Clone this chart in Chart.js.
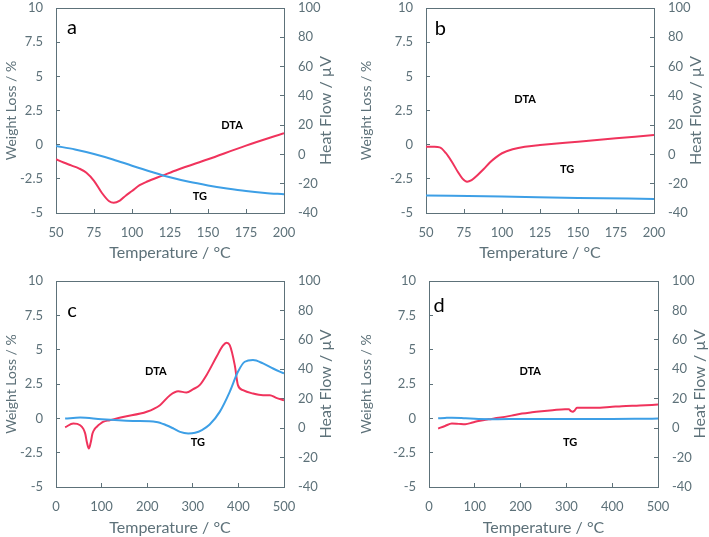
<!DOCTYPE html>
<html>
<head>
<meta charset="utf-8">
<script src="https://cdn.jsdelivr.net/npm/chart.js@4"></script>
<style>
body { margin: 0; background: #fff; width: 709px; height: 537px; position: relative; overflow: hidden; }
canvas { position: absolute; display: block; }
</style>
</head>
<body>
<canvas id="chartA" width="355" height="265" style="left:0;top:0"></canvas>
<canvas id="chartB" width="354" height="265" style="left:355px;top:0"></canvas>
<canvas id="chartC" width="355" height="272" style="left:0;top:265px"></canvas>
<canvas id="chartD" width="354" height="272" style="left:355px;top:265px"></canvas>
<script>
// panel a
var tempA_tg = [50, 62.5, 75, 87.5, 100, 112.5, 125, 137.5, 150, 162.5, 175, 187.5, 200];
var tgA = [-0.1, -0.35, -0.68, -1.08, -1.54, -1.98, -2.39, -2.72, -2.98, -3.2, -3.39, -3.53, -3.63];
var tempA_dta = [50, 55, 60, 65, 70, 75, 80, 85, 88, 92, 96, 100, 105, 110, 120, 130, 150, 175, 200];
var dtaA = [-3.3, -5.5, -7.5, -9.5, -12.5, -18, -26, -32, -33, -31.5, -28, -25, -21, -18.5, -14.5, -10.5, -3.3, 6, 14.5];

// panel b
var tempB_tg = [50, 100, 150, 200];
var tgB = [-3.72, -3.8, -3.9, -3.97];
var tempB_dta = [50, 55, 59, 63, 67, 71, 74, 77, 80, 84, 88, 92, 96, 100, 107, 115, 125, 150, 175, 200];
var dtaB = [5.3, 5.2, 4.8, 1, -5, -12, -16.5, -18.6, -17.5, -14, -10, -5.5, -2, 0.8, 3.5, 5.3, 6.4, 8.7, 11, 13.3];

// panel c
var tempC_tg = [20, 53, 100, 169, 220, 242, 258, 272, 290, 305, 320, 337, 359, 381, 399, 414, 432, 454, 476, 500];
var tgC = [-0.02, 0.06, -0.07, -0.19, -0.26, -0.5, -0.75, -0.99, -1.1, -1.05, -0.85, -0.45, 0.47, 1.93, 3.39, 4.12, 4.24, 4.0, 3.63, 3.27];
var tempC_dta = [20, 38, 53, 60, 64, 68, 72, 76, 80, 85, 89, 103, 118, 147, 199, 228, 250, 268, 286, 301, 315, 330, 352, 366, 374, 381, 392, 399, 410, 432, 454, 469, 483, 500];
var dtaC = [0.6, 3.1, 2.0, -0.5, -3.7, -10, -13.9, -10, -3.7, -0.5, 0.8, 4.2, 5.4, 7.6, 11.1, 15.6, 22.4, 25.1, 24.2, 26.5, 29.2, 36, 48.5, 56, 58, 56.4, 42.8, 29.2, 25.8, 23.5, 22.4, 22.4, 20.6, 19];

// panel d
var tempD_tg = [20, 35, 50, 80, 108, 150, 200, 300, 400, 470, 500];
var tgD = [0, 0.03, 0.05, 0.0, -0.05, -0.06, -0.05, -0.05, -0.05, -0.03, -0.02];
var tempD_dta = [20, 35, 50, 65, 79, 95, 108, 130, 152, 180, 203, 225, 246, 270, 297, 305, 310, 314, 318, 323, 340, 363, 400, 421, 460, 500];
var dtaD = [-0.3, 1.5, 3.1, 2.9, 2.7, 3.8, 4.9, 6.0, 7.0, 8.5, 9.9, 10.8, 11.5, 12.2, 12.9, 12.9, 11.5, 11.1, 12, 13.8, 13.8, 13.8, 14.5, 14.9, 15.4, 16];

var AXIS = '#5d7179';
var RED = '#f0335c';
var BLUE = '#3d9fe6';
var FONT = 'Lato, "Open Sans", sans-serif';

function pts(xs, ys) {
    return xs.map(function (x, i) { return {x: x, y: ys[i]}; });
}

// box round the plot, right axis title and the in-plot labels
var panelDecor = {
    id: 'panelDecor',
    beforeDatasetsDraw: function (chart) {
        var a = chart.chartArea, ctx = chart.ctx;
        ctx.save();
        ctx.strokeStyle = AXIS;
        ctx.lineWidth = 1;
        ctx.strokeRect(Math.round(a.left) + 0.5, Math.round(a.top) + 0.5,
            Math.round(a.right - a.left), Math.round(a.bottom - a.top));
        ctx.restore();
    },
    afterDraw: function (chart, args, opts) {
        var a = chart.chartArea, ctx = chart.ctx;
        var sx = chart.scales.x, sy = chart.scales.y;
        ctx.save();
        ctx.translate(a.right + 42, (a.top + a.bottom) / 2);
        ctx.rotate(-Math.PI / 2);
        ctx.fillStyle = AXIS;
        ctx.font = '16px ' + FONT;
        ctx.textAlign = 'center';
        ctx.textBaseline = 'middle';
        ctx.fillText('Heat Flow / \u00b5V', 0, 0);
        ctx.restore();

        ctx.save();
        ctx.fillStyle = '#000';
        ctx.textAlign = 'center';
        ctx.textBaseline = 'middle';
        ctx.font = '20px ' + FONT;
        ctx.fillText(opts.letter[0], sx.getPixelForValue(opts.letter[1]), sy.getPixelForValue(opts.letter[2]));
        ctx.font = 'bold 11px ' + FONT;
        opts.notes.forEach(function (n) {
            ctx.fillText(n[0], sx.getPixelForValue(n[1]), sy.getPixelForValue(n[2]));
        });
        ctx.restore();
    }
};

function noPad(s) {
    s.paddingTop = 0; s.paddingBottom = 0; s.paddingLeft = 0; s.paddingRight = 0;
}

function makePanel(id, p) {
    var ctx = document.getElementById(id).getContext('2d');
    return new Chart(ctx, {
        type: 'line',
        data: {
            datasets: [{
                label: 'TG',
                data: pts(p.tgX, p.tg),
                yAxisID: 'y',
                borderColor: BLUE,
                borderWidth: 2,
                pointRadius: 0,
                cubicInterpolationMode: 'monotone'
            }, {
                label: 'DTA',
                data: pts(p.dtaX, p.dta),
                yAxisID: 'y1',
                borderColor: RED,
                borderWidth: 2,
                pointRadius: 0,
                cubicInterpolationMode: 'monotone'
            }]
        },
        plugins: [panelDecor],
        options: {
            responsive: false,
            animation: false,
            layout: { padding: { top: p.box[2], left: 0, right: 0, bottom: 0 } },
            plugins: {
                legend: { display: false },
                tooltip: { enabled: false },
                panelDecor: { letter: p.letter, notes: p.notes }
            },
            scales: {
                x: {
                    type: 'linear',
                    min: p.xMin, max: p.xMax,
                    ticks: { stepSize: p.xStep, padding: 16, color: AXIS, font: { family: FONT, size: 13 } },
                    grid: { drawOnChartArea: false, tickLength: -4, color: AXIS },
                    border: { display: false },
                    title: { display: true, text: 'Temperature / \u00b0C', color: AXIS,
                             font: { family: FONT, size: 16 }, padding: { top: 0, bottom: p.box[4] } },
                    afterFit: function (s) { s.height = p.box[3]; noPad(s); }
                },
                y: {
                    position: 'left',
                    min: -5, max: 10,
                    ticks: { stepSize: 2.5, padding: 17, color: AXIS, font: { family: FONT, size: 13 } },
                    grid: { drawOnChartArea: false, tickLength: -4, color: AXIS },
                    border: { display: false },
                    title: { display: true, text: 'Weight Loss / %', color: AXIS,
                             font: { family: FONT, size: 14 }, padding: 3 },
                    afterFit: function (s) { s.width = p.box[0]; noPad(s); }
                },
                y1: {
                    position: 'right',
                    min: -40, max: 100,
                    ticks: { stepSize: 20, padding: 18, color: AXIS, font: { family: FONT, size: 13 } },
                    grid: { drawOnChartArea: false, tickLength: -4, color: AXIS },
                    border: { display: false },
                    afterFit: function (s) { s.width = p.box[1]; noPad(s); }
                }
            }
        }
    });
}

// box: [left axis width, right axis width, top padding, x axis height, title bottom padding]
makePanel('chartA', {
    tgX: tempA_tg, tg: tgA, dtaX: tempA_dta, dta: dtaA,
    xMin: 50, xMax: 200, xStep: 25, box: [56, 71, 8, 52, 3],
    letter: ['a', 60.5, 8.54], notes: [['DTA', 165.8, 1.37], ['TG', 144.7, -3.76]]
});
makePanel('chartB', {
    tgX: tempB_tg, tg: tgB, dtaX: tempB_dta, dta: dtaB,
    xMin: 50, xMax: 200, xStep: 25, box: [71, 55, 8, 52, 3],
    letter: ['b', 59.4, 8.46], notes: [['DTA', 115.2, 3.34], ['TG', 142.8, -1.78]]
});
makePanel('chartC', {
    tgX: tempC_tg, tg: tgC, dtaX: tempC_dta, dta: dtaC,
    xMin: 0, xMax: 500, xStep: 100, box: [56, 71, 16, 50, 0],
    letter: ['c', 35, 7.88], notes: [['DTA', 219, 3.43], ['TG', 311, -1.74]]
});
makePanel('chartD', {
    tgX: tempD_tg, tg: tgD, dtaX: tempD_dta, dta: dtaD,
    xMin: 0, xMax: 500, xStep: 100, box: [74, 51, 16, 50, 0],
    letter: ['d', 22, 8.18], notes: [['DTA', 221, 3.43], ['TG', 308, -1.74]]
});
</script>
</body>
</html>
